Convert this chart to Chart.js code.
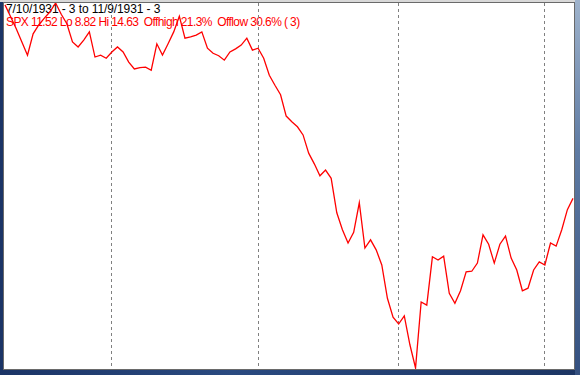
<!DOCTYPE html>
<html>
<head>
<meta charset="utf-8">
<script src="https://cdn.jsdelivr.net/npm/chart.js@4/dist/chart.umd.min.js"></script>
<style>
  html, body { margin: 0; padding: 0; }
  body {
    width: 580px; height: 375px; position: relative; overflow: hidden;
    background: linear-gradient(90deg, #1b3466 0%, #2a4a80 40%, #1c3563 100%);
  }
  #topstrip { position: absolute; left: 0; top: 0; width: 580px; height: 2px; background: #d8d8d8; }
  #rightglass { position: absolute; left: 575px; top: 0; width: 5px; height: 375px;
    background: linear-gradient(180deg, #9fb3cc 0%, #5f7ba3 40%, #34507f 100%); }
  #frame {
    position: absolute; left: 3px; top: 2px; width: 570px; height: 366px;
    border: 1px solid #6a6a6a; background: #fff;
  }
  .caption { position: absolute; left: 2px; font: 12px "Liberation Sans", Arial, sans-serif;
    line-height: 13px; white-space: pre; }
  #line1 { top: 0px; color: #000; letter-spacing: -0.1px; }
  #line2 { top: 13px; color: #ff0000; letter-spacing: -0.6px; }
  #chart { position: absolute; left: 0; top: 0; }
</style>
</head>
<body>
<div id="topstrip"></div>
<div id="rightglass"></div>
<div id="frame">
  <div class="caption" id="line1">7/10/1931 - 3 to 11/9/1931 - 3</div>
  <div class="caption" id="line2">SPX 11.52 Lo 8.82 Hi 14.63  Offhigh 21.3%  Offlow 30.6% ( 3)</div>
  <canvas id="chart" width="570" height="366"></canvas>
</div>
<script>
// trading days, 1931
const julDays = [10, 11, 13, 14, 15, 16, 17, 18, 20, 21, 22, 23, 24, 25, 27, 28, 29, 30, 31];
const augDays = [1, 3, 4, 5, 6, 7, 8, 10, 11, 12, 13, 14, 15, 17, 18, 19, 20, 21, 22, 24, 25, 26, 27, 28, 29, 31];
const sepDays = [1, 2, 3, 4, 5, 8, 9, 10, 11, 12, 14, 15, 16, 17, 18, 19, 21, 22, 23, 24, 25, 26, 28, 29, 30];
const octDays = [1, 2, 3, 5, 6, 7, 8, 9, 10, 13, 14, 15, 16, 17, 19, 20, 21, 22, 23, 24, 26, 27, 28, 29, 30, 31];
const novDays = [2, 4, 5, 6, 7, 9];

// SPX closes
const spxClose = [
  14.60, 14.41, 14.22, 14.01, 13.80, 14.14, 14.28, 14.39, 14.49, 14.63,
  14.45, 14.30, 14.01, 13.93, 14.04, 14.17, 13.77, 13.80, 13.75, 13.85,
  13.93, 13.85, 13.69, 13.58, 13.60, 13.61, 13.56, 13.98, 13.80, 13.98,
  14.17, 14.42, 14.07, 14.09, 14.12, 14.17, 13.91, 13.83, 13.79, 13.72,
  13.85, 13.90, 13.96, 14.07, 13.88, 13.91, 13.75, 13.48, 13.32, 13.17,
  12.83, 12.74, 12.66, 12.53, 12.24, 12.07, 11.88, 11.97, 11.84, 11.29,
  11.02, 10.81, 10.98, 11.45, 10.73, 10.86, 10.70, 10.46, 9.93, 9.63,
  9.52, 9.65, 9.19, 8.82, 9.87, 9.82, 10.59, 10.54, 10.60, 10.01,
  9.85, 10.05, 10.35, 10.36, 10.49, 10.94, 10.79, 10.49, 10.79, 10.92,
  10.57, 10.38, 10.05, 10.09, 10.38, 10.51, 10.46, 10.81, 10.76, 11.02,
  11.34, 11.52
];

const lowValue = 8.82;
const highValue = 14.63;

const labels = [
  ...julDays.map((d) => `7/${d}/1931`),
  ...augDays.map((d) => `8/${d}/1931`),
  ...sepDays.map((d) => `9/${d}/1931`),
  ...octDays.map((d) => `10/${d}/1931`),
  ...novDays.map((d) => `11/${d}/1931`),
];

// first trading day of each month after the start gets a dashed line
const monthStarts = labels
  .map((l, i) => (i > 0 && l.split("/")[0] !== labels[i - 1].split("/")[0] ? i : -1))
  .filter((i) => i >= 0);

new Chart(document.getElementById("chart"), {
  type: "line",
  data: {
    labels: labels,
    datasets: [{
      label: "SPX",
      data: spxClose,
      borderColor: "#ff0000",
      borderWidth: 1.3,
      pointRadius: 0,
      tension: 0,
      clip: false,
    }],
  },
  options: {
    responsive: false,
    animation: false,
    layout: { padding: { left: 1, right: 1, top: 0, bottom: 1 } },
    plugins: { legend: { display: false }, tooltip: { enabled: false } },
    scales: {
      x: {
        type: "category",
        offset: false,
        ticks: { display: false, autoSkip: false },
        grid: {
          drawTicks: false,
          tickLength: 0,
          lineWidth: 1,
          color: (ctx) => (monthStarts.includes(ctx.index) ? "#808080" : "rgba(0,0,0,0)"),
        },
        border: { display: false, dash: [3, 3] },
      },
      y: {
        display: false,
        min: lowValue,
        max: highValue,
      },
    },
  },
});
</script>
</body>
</html>
